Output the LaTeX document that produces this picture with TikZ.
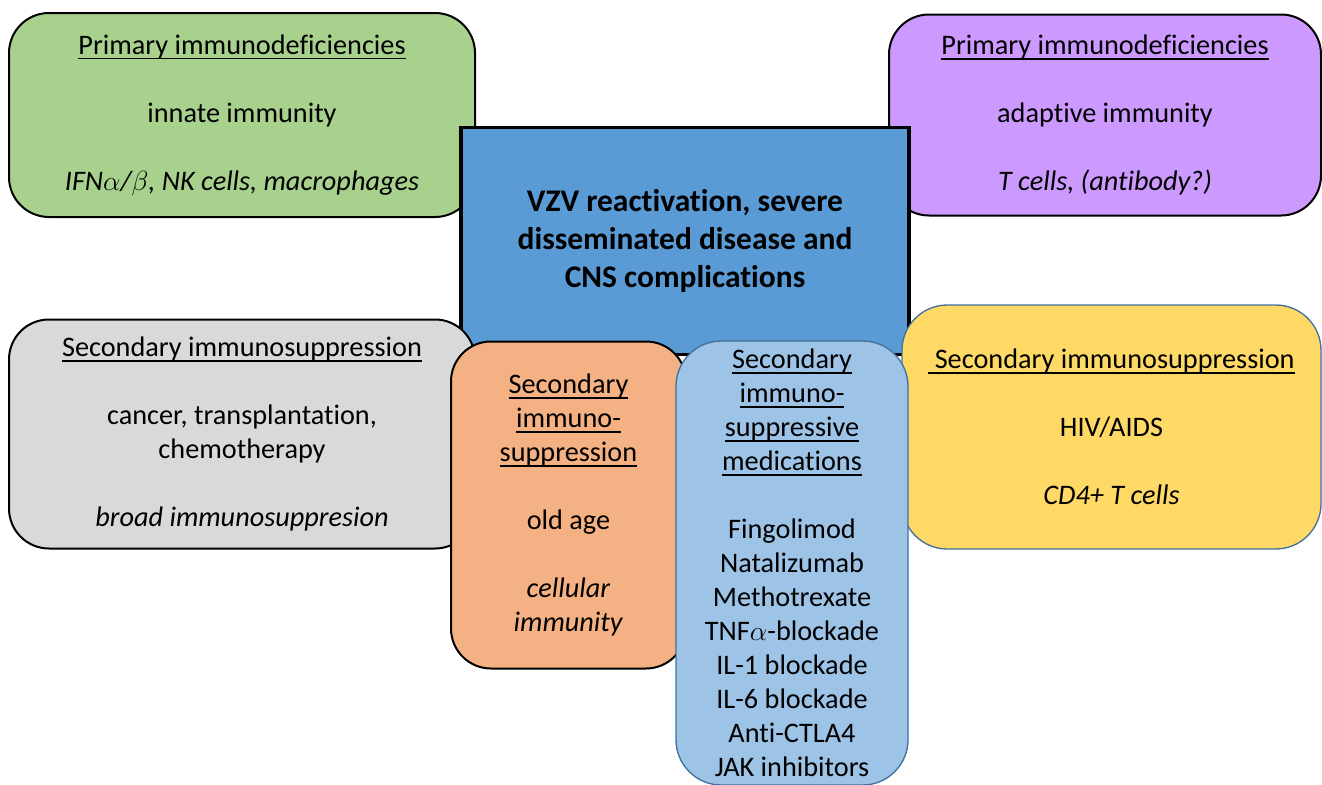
\documentclass[tikz,border=0pt]{standalone}
\usepackage{fontspec}
\setmainfont{Carlito}[Ligatures=NoCommon]
\definecolor{cgreen}{HTML}{A9D18E}
\definecolor{cpurple}{HTML}{CC99FF}
\definecolor{cblue}{HTML}{5B9BD5}
\definecolor{cgray}{HTML}{D9D9D9}
\definecolor{corange}{HTML}{F4B183}
\definecolor{clight}{HTML}{9DC3E6}
\definecolor{cyellow}{HTML}{FFD966}
\definecolor{cedge}{HTML}{41719C}
\newsavebox\ulbox
\newcommand{\ulx}[1]{\sbox\ulbox{#1}\rlap{\rule[-3.8pt]{\wd\ulbox}{1.2pt}}\usebox\ulbox}
\tikzset{
  boxbase/.style={draw, rounded corners=30pt, align=center, inner sep=0pt,
    font={\fontsize{21.2}{25.5}\selectfont}},
  blackbox/.style={boxbase, draw=black, line width=1.5pt},
  bluebox/.style={boxbase, draw=cedge, line width=1pt, rounded corners=34pt},
  centerbox/.style={draw=black, line width=2.4pt, fill=cblue, align=center, inner sep=0pt,
    font={\bfseries\fontsize{23.6}{28.5}\selectfont}},
}
\begin{document}
\begin{tikzpicture}[x=0.75pt,y=-0.75pt]
\useasboundingbox (0,0) rectangle (1322,785);
\node[blackbox, fill=cgreen, minimum width=349.5pt, minimum height=153pt] (green) at (242,115)
  {\ulx{Primary immunodeficiencies}\\[25.5pt] innate immunity\\[25.5pt] \textit{IFN$\alpha$/$\beta$, NK cells, macrophages}};
\node[blackbox, fill=cpurple, minimum width=324pt, minimum height=150.75pt] (purple) at (1105,115)
  {\ulx{Primary immunodeficiencies}\\[25.5pt] adaptive immunity\\[25.5pt] \textit{T cells, (antibody?)}};
\node[centerbox, minimum width=336pt, minimum height=170.25pt] (vzv) at (685,241)
  {VZV reactivation, severe\\ disseminated disease and\\ CNS complications};
\node[blackbox, fill=cgray, minimum width=349.5pt, minimum height=171.75pt] (gray) at (242,434)
  {\ulx{Secondary immunosuppression}\\[25.5pt] cancer, transplantation,\\ chemotherapy\\[25.5pt] \textit{broad immunosuppresion}};
\node[blackbox, fill=corange, minimum width=176.25pt, minimum height=245.25pt] (orange) at (568.5,505)
  {\ulx{Secondary}\\ \ulx{immuno-}\\ \ulx{suppression}\\[25.5pt] old age\\[25.5pt] \textit{cellular}\\ \textit{immunity}};
\node[bluebox, fill=cyellow, minimum width=314.25pt, minimum height=183pt] (yellow) at (1111.5,427)
  {\ulx{\ Secondary immunosuppression}\\[25.5pt] HIV/AIDS\\[25.5pt] \textit{CD4+ T cells}};
\node[bluebox, fill=clight, minimum width=174pt, minimum height=333pt] (meds) at (792,563)
  {\ulx{Secondary}\\ \ulx{immuno-}\\ \ulx{suppressive}\\ \ulx{medications}\\[25.5pt]
   Fingolimod\\ Natalizumab\\ Methotrexate\\ TNF$\alpha$-blockade\\ IL-1 blockade\\ IL-6 blockade\\ Anti-CTLA4\\ JAK inhibitors};
\end{tikzpicture}
\end{document}
